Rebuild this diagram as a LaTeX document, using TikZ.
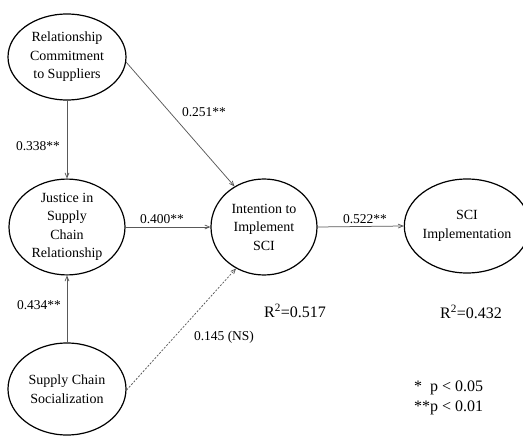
\documentclass[tikz,border=0pt]{standalone}
\usepackage{fontspec}
\setmainfont{Liberation Serif}
\usepackage{tikz}
\usetikzlibrary{shapes.geometric}
\usetikzlibrary{arrows,positioning}
\colorlet{edgegray}{black!65}

\begin{document}
\begin{tikzpicture}[->,>=angle 45,x=1pt,y=-1pt]
\tikzstyle{construct}=[ellipse,draw=black,line width=1.2pt,inner sep=0pt,align=center,font=\fontsize{14}{18.5}\selectfont]
\tikzstyle{link}=[draw=edgegray,line width=0.75pt]
\tikzstyle{coef}=[inner sep=0pt,font=\fontsize{13.5}{16}\selectfont]
\tikzstyle{rsq}=[inner sep=0pt,font=\fontsize{16}{18}\selectfont]

\useasboundingbox (0,0) rectangle (523,436);

\node [construct] (rcs) at(67,57)[minimum width=118pt,minimum height=86pt] {Relationship\\Commitment\\to Suppliers};
\node [construct] (jus) at(67,227)[minimum width=116pt,minimum height=92pt] {Justice in\\Supply\\Chain\\Relationship};
\node [construct] (soc) at(67,389)[minimum width=118pt,minimum height=92pt] {Supply Chain\\Socialization};
\node [construct] (int) at(264,227)[minimum width=106pt,minimum height=96pt] {Intention to\\Implement\\SCI};
\node [construct] (imp) at(467,226)[minimum width=110pt,minimum height=94pt] {SCI\\Implementation};

\path (rcs) edge[link] (jus);
\path (soc) edge[link] (jus);
\path (rcs.-5) edge[link] (int.126);
\path (jus.east) edge[link] (int.west);
\path (soc.-1) edge[link,dash pattern=on 2pt off 1.5pt] (int.-124);
\path (int.east) edge[link] (imp.west);

\node [coef] (c1) at(38,146) {0.338**};
\node [coef] (c2) at(39,305) {0.434**};
\node [coef] (c3) at(204,112) {0.251**};
\node [coef] (c4) at(162,219) {0.400**};
\node [coef] (c5) at(224,337) {0.145 (NS)};
\node [coef] (c6) at(365,219) {0.522**};

\node [rsq] (r1) at(295,311) {R\textsuperscript{2}=0.517};
\node [rsq] (r2) at(471,312) {R\textsuperscript{2}=0.432};

\node [rsq,anchor=west,align=left,font=\fontsize{16}{20}\selectfont] (key) at(414,398) {*\hphantom{*}p < 0.05\\**p < 0.01};
\end{tikzpicture}
\end{document}
